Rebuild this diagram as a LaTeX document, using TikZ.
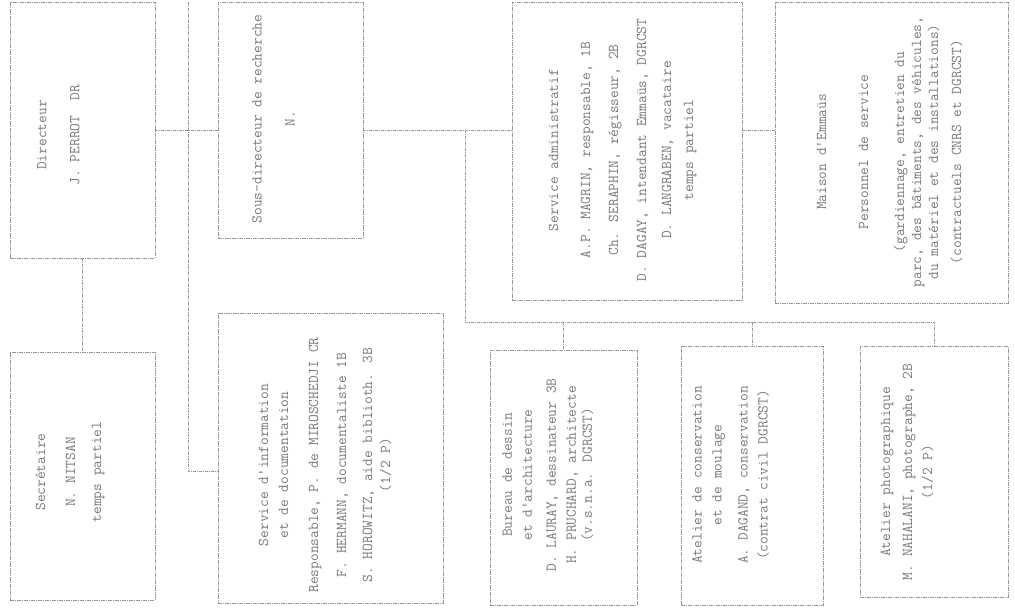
\documentclass[tikz,border=0pt]{standalone}
\usepackage{fontspec}
\usepackage{tikz}
\definecolor{inkGray}{RGB}{120,120,120}
\definecolor{lineGray}{RGB}{150,150,150}

\tikzset{
  box/.style={draw=lineGray, line width=0.8pt, dash pattern=on 4pt off 1pt on 1pt off 1pt, inner sep=0pt},
  link/.style={draw=lineGray, line width=0.8pt, dash pattern=on 3pt off 1pt on 1pt off 1pt},
  txt/.style={rotate=90, align=center, inner sep=0pt, text=inkGray,
    font=\ttfamily\fontsize{15}{20}\selectfont}
}

\begin{document}
\begin{tikzpicture}[x=1pt,y=-1pt]
  \useasboundingbox (0,0) rectangle (1015,609);
  % upper row
  \node[box, minimum width=145pt, minimum height=256pt] (dir) at (82.5,130) {};
  \node[box, minimum width=145pt, minimum height=236pt] (sous) at (290.5,120) {};
  \node[box, minimum width=230pt, minimum height=298pt] (admin) at (627,151) {};
  \node[box, minimum width=233pt, minimum height=301pt] (maison) at (891.5,152.5) {};
  % lower row
  \node[box, minimum width=145pt, minimum height=248pt] (sec) at (82.5,476) {};
  \node[box, minimum width=225pt, minimum height=290pt] (info) at (330.5,458) {};
  \node[box, minimum width=147pt, minimum height=255pt] (bureau) at (563.5,477.5) {};
  \node[box, minimum width=142pt, minimum height=259pt] (cons) at (752,475.5) {};
  \node[box, minimum width=148pt, minimum height=251pt] (photo) at (934,471.5) {};

  % texts
  \node[txt] (dirTxt) at (58.5,135) {Directeur\\[13pt]J. PERROT~ DR};
  \node[txt] (secTxt) at (70,472) {Secrétaire\\[10pt]N. NITSAN\\[6pt]temps partiel};
  \node[txt] (sousTxt) at (273.5,119) {Sous-directeur de recherche\\[13pt]N.};
  \node[txt] (infoTxt) at (325,465) {Service d'information\\et de documentation\\[10pt]Responsable, P. de MIROSCHEDJI CR\\[8pt]F. HERMANN, documentaliste 1B\\[6pt]S. HOROWITZ, aide biblioth. 3B\\[-2pt](1/2 P)};
  \node[txt] (adminTxt) at (622.5,150) {Service administratif\\[12pt]A.P. MAGRIN, responsable, 1B\\[8pt]Ch. SERAPHIN, régisseur, 2B\\[8pt]D. DAGAY, intendant Emmaüs, DGRCST\\[5pt]D. LANGRABEN, vacataire\\[2pt]temps partiel};
  \node[txt] (maisonTxt) at (889.5,152) {Maison d'Emmaüs\\[22pt]Personnel de service\\[16pt](gardiennage, entretien du\\[-3pt]parc, des bâtiments, des véhicules,\\[-3pt]du matériel et des installations)\\[3pt](contractuels CNRS et DGRCST)};
  \node[txt] (bureauTxt) at (548,475) {Bureau de dessin\\et d'architecture\\[4pt]D. LAURAY, dessinateur 3B\\H. PRUCHARD, architecte\\[-4pt](v.s.n.a. DGRCST)};
  \node[txt] (consTxt) at (730.5,475) {Atelier de conservation\\et de moulage\\[6pt]A. DAGAND, conservation\\(contrat civil DGRCST)};
  \node[txt] (photoTxt) at (907,472) {Atelier photographique\\[2pt]M. NAHALANI, photographe, 2B\\(1/2 P)};

  % connectors
  \coordinate (rowA) at (0,130);
  \coordinate (trunkTop) at (188,2);
  \coordinate (infoIn) at (188,471);
  \coordinate (fork) at (465,130);
  \coordinate (busL) at (465,322);
  \draw[link] (dir.east |- rowA) -- (sous.west |- rowA);
  \draw[link] (trunkTop) -- (infoIn) -- (info.west |- infoIn);
  \draw[link] (dir.south) -- (sec.north);
  \draw[link] (sous.east |- rowA) -- (admin.west |- rowA);
  \draw[link] (admin.east |- rowA) -- (maison.west |- rowA);
  \draw[link] (fork) -- (busL) -- (photo.north |- busL) -- (photo.north);
  \foreach \b in {bureau, cons}
    \draw[link] (\b.north |- busL) -- (\b.north);
\end{tikzpicture}
\end{document}
